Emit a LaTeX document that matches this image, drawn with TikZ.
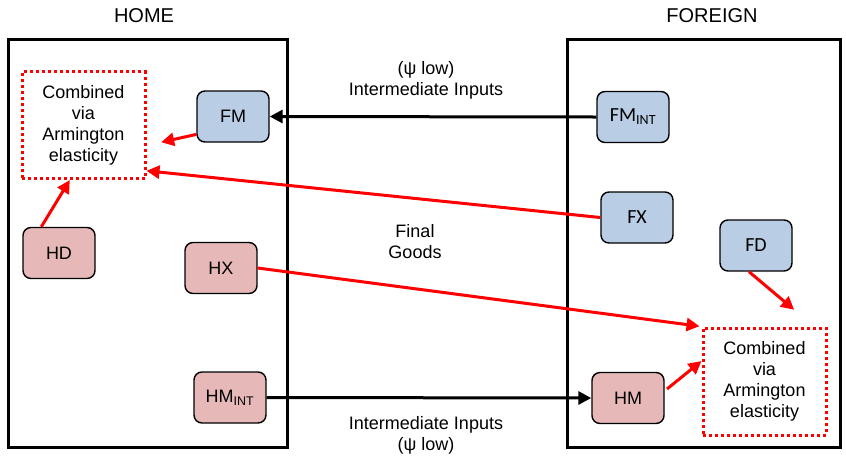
\documentclass[tikz,border=0pt]{standalone}
\usepackage{fontspec}
\setmainfont{Liberation Sans}
\newfontfamily\calfont{Carlito}
\usetikzlibrary{arrows.meta}
\definecolor{bfill}{HTML}{B9CDE5}
\definecolor{pfill}{HTML}{E6B9B8}
\definecolor{rline}{HTML}{FF0000}
\begin{document}
\begin{tikzpicture}[x=1pt,y=-1pt,
  every node/.style={font=\fontsize{18}{21}\selectfont},
  hdr/.style={font=\fontsize{20}{22}\selectfont, inner sep=0},
  bigbox/.style={draw=black, line width=3pt},
  agent/.style={draw=black, line width=1.4pt, rounded corners=8pt, minimum width=72pt, minimum height=51pt, inner sep=0},
  blue/.style={agent, fill=bfill, font=\calfont\fontsize{20}{22}\selectfont},
  pink/.style={agent, fill=pfill},
  combo/.style={draw=rline, line width=3pt, dash pattern=on 3pt off 3pt, minimum width=123pt, minimum height=107pt, align=center, inner sep=0},
  lbl/.style={align=center, inner sep=0},
  rarr/.style={draw=rline, line width=3pt, -{Triangle[length=13pt,width=13pt]}},
  barr/.style={draw=black, line width=3pt, -{Triangle[length=13pt,width=13pt]}}
]
\useasboundingbox (0,0) rectangle (846,456);
\draw[bigbox] (8,39) rectangle (287,447);
\draw[bigbox] (567,39) rectangle (840,447);
\node[hdr] (home) at (144,16) {HOME};
\node[hdr] (foreign) at (712,16) {FOREIGN};

\node[combo] (lc) at (83.5,125) {Combined\\via\\Armington\\elasticity};
\node[combo] (rc) at (764.5,381.5) {Combined\\via\\Armington\\elasticity};

\node[blue, font=\fontsize{18}{21}\selectfont] (fm) at (233,116.5) {FM};
\node[pink] (hd) at (59,253) {HD};
\node[pink] (hx) at (221,268) {HX};
\node[pink] (hmint) at (230,397.5) {HM\textsubscript{\fontsize{12.5}{14}\selectfont INT}};

\node[blue] (fmint) at (633,117) {FM\textsubscript{\fontsize{14}{14}\selectfont INT}};
\node[blue] (fx) at (637,217.5) {FX};
\node[blue] (fd) at (756,245.5) {FD};
\node[pink] (hm) at (628,398) {HM};

\node[lbl] (t1) at (426,80) {(ψ low)\\Intermediate Inputs};
\node[lbl] (t2) at (415,242) {Final\\Goods};
\node[lbl] (t3) at (426,435) {Intermediate Inputs\\(ψ low)};

\draw[barr] (fmint.west) -- (fm.east);
\draw[barr] (hmint.east) -- (hm.west);

\draw[rarr, shorten >=15pt] (fm.206) -- (lc.342);
\draw[rarr] (fx.west) -- (lc.324);
\draw[rarr] (hd.124) -- (lc.256);
\draw[rarr, shorten >=2pt] (hx.east) -- (rc.north west);
\draw[rarr, shorten >=26pt] (fd.255) -- (rc.48);
\draw[rarr, shorten <=3pt] (hm.11) -- (rc.162);
\end{tikzpicture}
\end{document}
